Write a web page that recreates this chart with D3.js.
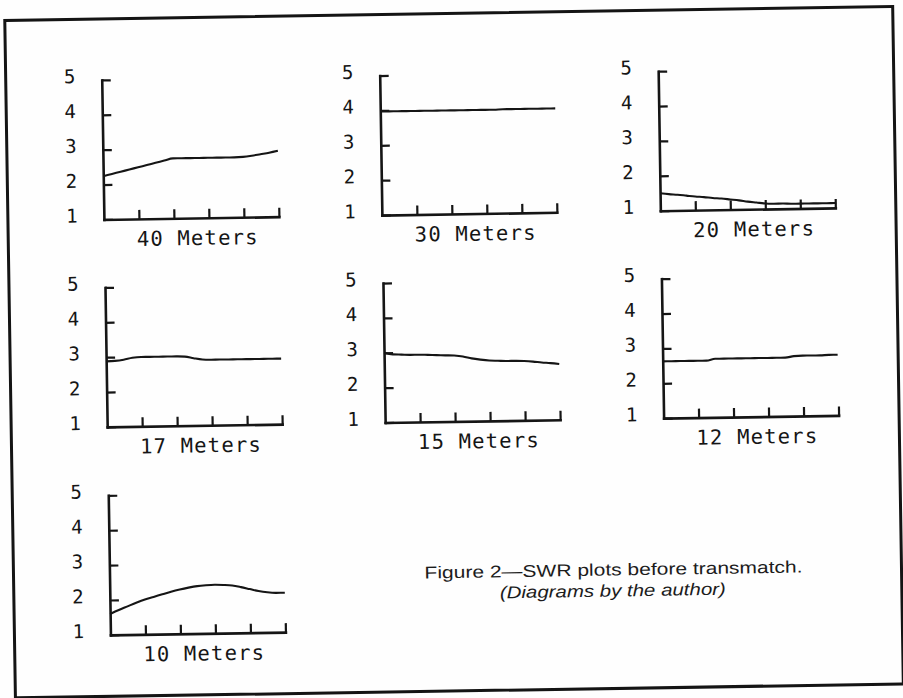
<!DOCTYPE html>
<html><head><meta charset="utf-8">
<script src="https://cdn.jsdelivr.net/npm/d3@7"></script>
<style>html,body{margin:0;padding:0;background:#fff;} svg{display:block}</style>
</head><body>
<svg id="c" width="903" height="698"></svg>
<script>
// shared x sample positions (relative frequency across each band, 0..5 divisions)
const xs = [0,0.25,0.5,0.75,1,1.25,1.5,1.75,2,2.25,2.5,2.75,3,3.25,3.5,3.75,4,4.25,4.5,4.75,5];
const yTickValues = [1,2,3,4,5];
const xTickValues = [1,2,3,4,5];
const bands = ["40 Meters","30 Meters","20 Meters","17 Meters","15 Meters","12 Meters","10 Meters"];

const swr40 = [2.24,2.30,2.36,2.42,2.48,2.54,2.60,2.66,2.72,2.72,2.72,2.72,2.72,2.72,2.72,2.72,2.73,2.76,2.80,2.84,2.89];
const swr30 = [3.97,3.97,3.97,3.97,3.97,3.97,3.97,3.97,3.97,3.97,3.97,3.97,3.97,3.97,3.98,3.98,3.98,3.98,3.98,3.98,3.98];
const swr20 = [1.50,1.47,1.45,1.42,1.39,1.37,1.34,1.32,1.29,1.26,1.22,1.19,1.16,1.15,1.15,1.14,1.14,1.14,1.14,1.14,1.14];
const swr17 = [2.88,2.89,2.92,2.97,2.99,2.99,2.99,2.99,2.99,2.98,2.93,2.89,2.88,2.88,2.88,2.88,2.88,2.88,2.88,2.88,2.88];
const swr15 = [3.00,2.95,2.94,2.93,2.93,2.92,2.91,2.90,2.89,2.86,2.80,2.76,2.73,2.72,2.71,2.71,2.70,2.68,2.65,2.63,2.60];
const swr12 = [2.63,2.63,2.63,2.63,2.63,2.63,2.68,2.68,2.68,2.68,2.68,2.68,2.68,2.68,2.68,2.72,2.73,2.73,2.73,2.74,2.74];
const swr10 = [1.60,1.71,1.81,1.91,2.00,2.07,2.14,2.21,2.27,2.32,2.36,2.38,2.39,2.38,2.36,2.31,2.25,2.19,2.15,2.13,2.13];

const captionLines = ["Figure 2\u2014SWR plots before transmatch.", "(Diagrams by the author)"];

const series = [swr40, swr30, swr20, swr17, swr15, swr12, swr10];

const svg = d3.select("#c");
svg.append("rect").attr("width",903).attr("height",698).attr("fill","#fefefe");

const g = svg.append("g").attr("transform","rotate(-0.9,451,349)");

g.append("rect").attr("x",10).attr("y",13.5).attr("width",888).attr("height",677.5)
  .attr("fill","none").attr("stroke","#141414").attr("stroke-width",3);

const colX = [106, 384, 662.5];
const rowBase = [214, 421.5, 629.5];
const W = 175, H = 139.5;
const ink = "#151515";

bands.forEach((name, i) => {
  const col = i % 3, row = Math.floor(i / 3);
  const p = g.append("g").attr("transform", `translate(${colX[col]},${rowBase[row] - H})`);
  const x = d3.scaleLinear().domain([0,5]).range([0,W]);
  const y = d3.scaleLinear().domain([1,5]).range([H,0]);

  const ya = p.append("g").call(
    d3.axisLeft(y).tickValues(yTickValues).tickSize(-9).tickSizeOuter(0).tickPadding(26).tickFormat(d3.format("d"))
  );
  const xa = p.append("g").attr("transform",`translate(0,${H})`).call(
    d3.axisBottom(x).tickValues(xTickValues).tickSize(-9).tickSizeOuter(0).tickFormat("")
  );
  [ya, xa].forEach(a => {
    a.select(".domain").attr("stroke", ink).attr("stroke-width", 2.6).attr("stroke-linecap","square");
    a.selectAll(".tick line").attr("stroke", ink).attr("stroke-width", 2.2);
  });
  ya.selectAll(".tick text")
    .attr("fill", ink)
    .attr("font-family", "'DejaVu Sans Mono', 'Liberation Mono', monospace")
    .attr("font-size", 19)
    .attr("text-anchor", "middle")
    .attr("x", -32)
    .attr("dy", "0.12em");

  const data = xs.map((xv, k) => [xv, series[i][k]]);
  p.append("path").datum(data)
    .attr("fill","none").attr("stroke", ink).attr("stroke-width", 2.1)
    .attr("stroke-linejoin","round")
    .attr("d", d3.line().x(d => x(d[0])).y(d => y(d[1])).curve(d3.curveMonotoneX));

  p.append("text")
    .attr("x", W/2 + 6).attr("y", H + 27)
    .attr("text-anchor","middle")
    .attr("font-family", "'DejaVu Sans Mono', 'Liberation Mono', monospace")
    .attr("font-size", 20.5)
    .attr("letter-spacing", 1.2)
    .attr("fill", ink)
    .text(name);
});

g.append("text").attr("x", 610).attr("y", 578).attr("text-anchor","middle")
  .attr("font-family","'Liberation Sans', Arial, sans-serif").attr("font-size",17)
  .attr("textLength", 378).attr("lengthAdjust","spacingAndGlyphs")
  .attr("fill","#1c1c1c").text(captionLines[0]);
g.append("text").attr("x", 609).attr("y", 599).attr("text-anchor","middle")
  .attr("font-family","'Liberation Sans', Arial, sans-serif").attr("font-size",17)
  .attr("font-style","italic")
  .attr("textLength", 226).attr("lengthAdjust","spacingAndGlyphs")
  .attr("fill","#1c1c1c").text(captionLines[1]);
</script>
</body></html>
